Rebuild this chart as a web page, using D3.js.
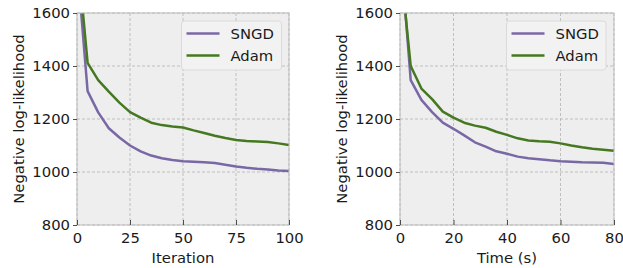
<!DOCTYPE html>
<html>
<head>
<meta charset="utf-8">
<script src="https://cdn.jsdelivr.net/npm/d3@7"></script>
<style>
  body { margin: 0; background: #fff; }
  text { font-family: "DejaVu Sans", sans-serif; fill: #1a1a1a; }
</style>
</head>
<body>
<div id="chart"></div>
<script>
// left panel: loss vs iteration
var iterations = [0, 5, 10, 15, 20, 25, 30, 35, 40, 45, 50, 55, 60, 65, 70, 75, 80, 85, 90, 95, 100];
var sngdIter = [1793, 1305, 1225, 1165, 1130, 1100, 1078, 1062, 1052, 1045, 1041, 1039, 1037, 1034, 1027, 1021, 1016, 1012, 1009, 1006, 1004];
var adamIter = [1842, 1412, 1347, 1303, 1262, 1226, 1205, 1186, 1177, 1172, 1168, 1157, 1147, 1137, 1128, 1121, 1117, 1115, 1113, 1108, 1102];

// right panel: loss vs wall time
var times = [1, 4, 8, 12, 16, 20, 24, 28, 32, 36, 40, 44, 48, 52, 56, 60, 64, 68, 72, 76, 80];
var sngdTime = [1735, 1347, 1272, 1226, 1186, 1163, 1138, 1112, 1096, 1078, 1069, 1058, 1052, 1048, 1044, 1041, 1039, 1037, 1036, 1035, 1030];
var adamTime = [1700, 1400, 1315, 1275, 1228, 1205, 1186, 1175, 1167, 1152, 1140, 1127, 1119, 1116, 1114, 1108, 1100, 1093, 1088, 1084, 1080];

var seriesNames = ["SNGD", "Adam"];
var colors = ["#7A68A6", "#467821"];
var yTicks = [800, 1000, 1200, 1400, 1600];
var xTicksIter = [0, 25, 50, 75, 100];
var xTicksTime = [0, 20, 40, 60, 80];

var width = 623, height = 268;
var fontSize = 14.8;

var svg = d3.select("#chart").append("svg")
  .attr("width", width)
  .attr("height", height);

function panel(opts) {
  var left = opts.left, right = opts.right, top = 13, bottom = 225;
  var x = d3.scaleLinear().domain(opts.xDomain).range([left, right]);
  var y = d3.scaleLinear().domain([800, 1600]).range([bottom, top]);
  var g = svg.append("g");

  g.append("rect")
    .attr("x", left).attr("y", top)
    .attr("width", right - left).attr("height", bottom - top)
    .attr("fill", "#eeeeee");

  // grid
  g.selectAll(".gx").data(opts.xTicks).enter().append("line")
    .attr("x1", d => x(d)).attr("x2", d => x(d))
    .attr("y1", top).attr("y2", bottom)
    .attr("stroke", "#b2b2b2").attr("stroke-width", 0.8)
    .attr("stroke-dasharray", "3,2");
  g.selectAll(".gy").data(yTicks).enter().append("line")
    .attr("x1", left).attr("x2", right)
    .attr("y1", d => y(d)).attr("y2", d => y(d))
    .attr("stroke", "#b2b2b2").attr("stroke-width", 0.8)
    .attr("stroke-dasharray", "3,2");

  // lines, clipped to plot area
  var clipId = "clip" + opts.id;
  svg.append("clipPath").attr("id", clipId).append("rect")
    .attr("x", left).attr("y", top)
    .attr("width", right - left).attr("height", bottom - top);

  var line = d3.line().x(d => x(d[0])).y(d => y(d[1]));
  opts.series.forEach(function (vals, i) {
    g.append("path")
      .datum(opts.xs.map((v, j) => [v, vals[j]]))
      .attr("clip-path", "url(#" + clipId + ")")
      .attr("d", line)
      .attr("fill", "none")
      .attr("stroke", colors[i])
      .attr("stroke-width", 2.5)
      .attr("stroke-linejoin", "round");
  });

  // spines
  g.append("rect")
    .attr("x", left).attr("y", top)
    .attr("width", right - left).attr("height", bottom - top)
    .attr("fill", "none").attr("stroke", "#bcbcbc").attr("stroke-width", 1);

  // y axis: outward ticks
  var yAxis = d3.axisLeft(y).tickValues(yTicks).tickFormat(d3.format("d")).tickSize(4).tickPadding(3);
  var ya = g.append("g").attr("transform", "translate(" + left + ",0)").call(yAxis);
  // x axis: inward ticks
  var xAxis = d3.axisBottom(x).tickValues(opts.xTicks).tickFormat(d3.format("d")).tickSize(-5).tickPadding(7);
  var xa = g.append("g").attr("transform", "translate(0," + bottom + ")").call(xAxis);
  [ya, xa].forEach(function (a) {
    a.select(".domain").remove();
    a.selectAll(".tick line").attr("stroke", "#4d4d4d").attr("stroke-width", 1);
    a.selectAll(".tick text").style("font-size", fontSize + "px")
      .style("font-family", "DejaVu Sans").attr("fill", "#1a1a1a");
  });

  g.append("text")
    .attr("x", (left + right) / 2).attr("y", 263)
    .attr("text-anchor", "middle")
    .style("font-size", fontSize + "px")
    .text(opts.xLabel);

  g.append("text")
    .attr("transform", "translate(" + opts.yLabelX + "," + 119 + ") rotate(-90)")
    .attr("text-anchor", "middle")
    .attr("dy", "0.35em")
    .style("font-size", fontSize + "px")
    .text("Negative log-likelihood");

  // legend
  var lx = opts.legendX, ly = 21;
  var lg = g.append("g");
  lg.append("rect")
    .attr("x", lx).attr("y", ly)
    .attr("width", opts.legendW).attr("height", 49)
    .attr("rx", 3)
    .attr("fill", "#f2f2f2").attr("stroke", "#d6d6d6").attr("stroke-width", 0.8);
  seriesNames.forEach(function (name, i) {
    var yy = ly + 12.5 + i * 22;
    lg.append("line")
      .attr("x1", lx + 5).attr("x2", lx + 38)
      .attr("y1", yy).attr("y2", yy)
      .attr("stroke", colors[i]).attr("stroke-width", 2.5);
    lg.append("text")
      .attr("x", lx + 49).attr("y", yy)
      .attr("dy", "0.35em")
      .style("font-size", fontSize + "px")
      .text(name);
  });
}

panel({
  id: "a", left: 77, right: 289, xDomain: [0, 100],
  xs: iterations, series: [sngdIter, adamIter],
  xTicks: xTicksIter, xLabel: "Iteration",
  yLabelX: 18.5, legendX: 181.5, legendW: 100
});

panel({
  id: "b", left: 400, right: 614, xDomain: [0, 80],
  xs: times, series: [sngdTime, adamTime],
  xTicks: xTicksTime, xLabel: "Time (s)",
  yLabelX: 341.5, legendX: 506.5, legendW: 99.5
});
</script>
</body>
</html>
